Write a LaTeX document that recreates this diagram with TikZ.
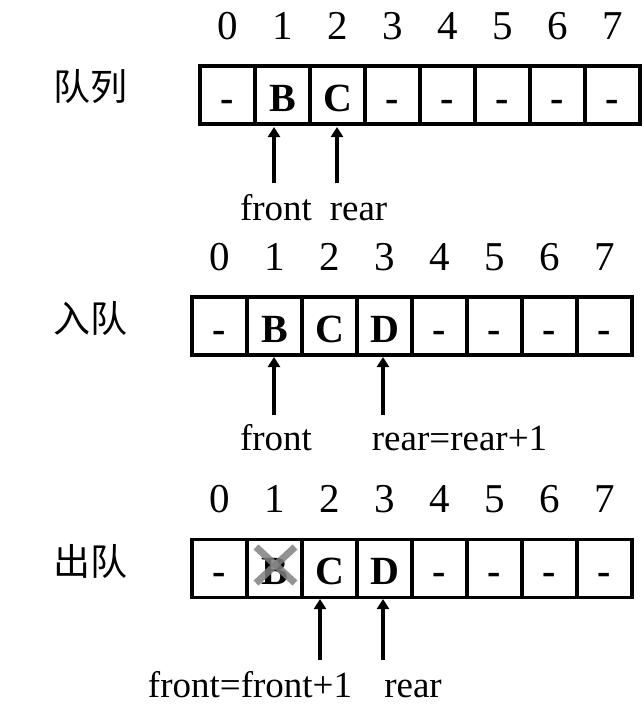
\documentclass[tikz,border=0pt]{standalone}
\usepackage{fontspec}
\setmainfont{Liberation Serif}
\newfontfamily\cjk{Noto Sans CJK SC}
\usetikzlibrary{arrows.meta}
\tikzset{
  cell/.style={draw=black, line width=3.5pt, minimum width=55pt, minimum height=58pt,
    inner sep=0pt, text height=32pt, text depth=0pt, font=\fontsize{40}{42}\selectfont\bfseries},
  idx/.style={anchor=base, inner sep=0pt, font=\fontsize{41}{44}\selectfont},
  lbl/.style={anchor=base, inner sep=0pt, font=\fontsize{37}{40}\selectfont},
  title/.style={inner sep=0pt, font=\fontsize{37}{40}\selectfont\cjk},
  ptr/.style={line width=3.5pt, -{Triangle[length=10pt,width=12pt]}},
  cross/.style={line width=7pt, draw=gray, opacity=0.85}
}
\begin{document}
\begin{tikzpicture}[x=1pt,y=-1pt]
\useasboundingbox (0,0) rectangle (644,712);
% row 1
\node[title] (t1) at (90,87) {队列};
\foreach \i/\t in {0/-,1/B,2/C,3/-,4/-,5/-,6/-,7/-}{
  \node[cell] (a\i) at ({227.5+55*\i},95) {\t};
  \node[idx] (ia\i) at ({227.5+55*\i},39) {\i};
}
\node[lbl] (fa) at (276,220) {front};
\node[lbl] (ra) at (358.5,220) {rear};
\coordinate (fat) at (274,183); \coordinate (fah) at (274,127);
\coordinate (rat) at (337,183); \coordinate (rah) at (337,127);
\draw[ptr] (fat) -- (fah);
\draw[ptr] (rat) -- (rah);
% row 2
\node[title] (t2) at (90,318) {入队};
\foreach \i/\t in {0/-,1/B,2/C,3/D,4/-,5/-,6/-,7/-}{
  \node[cell] (b\i) at ({219.5+55*\i},326) {\t};
  \node[idx] (ib\i) at ({219.5+55*\i},270) {\i};
}
\node[lbl] (fb) at (276,450) {front};
\node[lbl] (rb) at (459.5,450) {rear=rear+1};
\coordinate (fbt) at (274,415); \coordinate (fbh) at (274,357);
\coordinate (rbt) at (383,415); \coordinate (rbh) at (383,357);
\draw[ptr] (fbt) -- (fbh);
\draw[ptr] (rbt) -- (rbh);
% row 3
\node[title] (t3) at (90,561) {出队};
\foreach \i/\t in {0/-,1/B,2/C,3/D,4/-,5/-,6/-,7/-}{
  \node[cell] (c\i) at ({219.5+55*\i},568.5) {\t};
  \node[idx] (ic\i) at ({219.5+55*\i},512) {\i};
}
\coordinate (x1) at (256,547); \coordinate (x2) at (295,583);
\coordinate (x3) at (256,583); \coordinate (x4) at (295,547);
\draw[cross] (x1) -- (x2);
\draw[cross] (x3) -- (x4);
\node[lbl] (fc) at (250,697) {front=front+1};
\node[lbl] (rc) at (413,697) {rear};
\coordinate (fct) at (320,660); \coordinate (fch) at (320,599);
\coordinate (rct) at (383,660); \coordinate (rch) at (383,599);
\draw[ptr] (fct) -- (fch);
\draw[ptr] (rct) -- (rch);
\end{tikzpicture}
\end{document}
